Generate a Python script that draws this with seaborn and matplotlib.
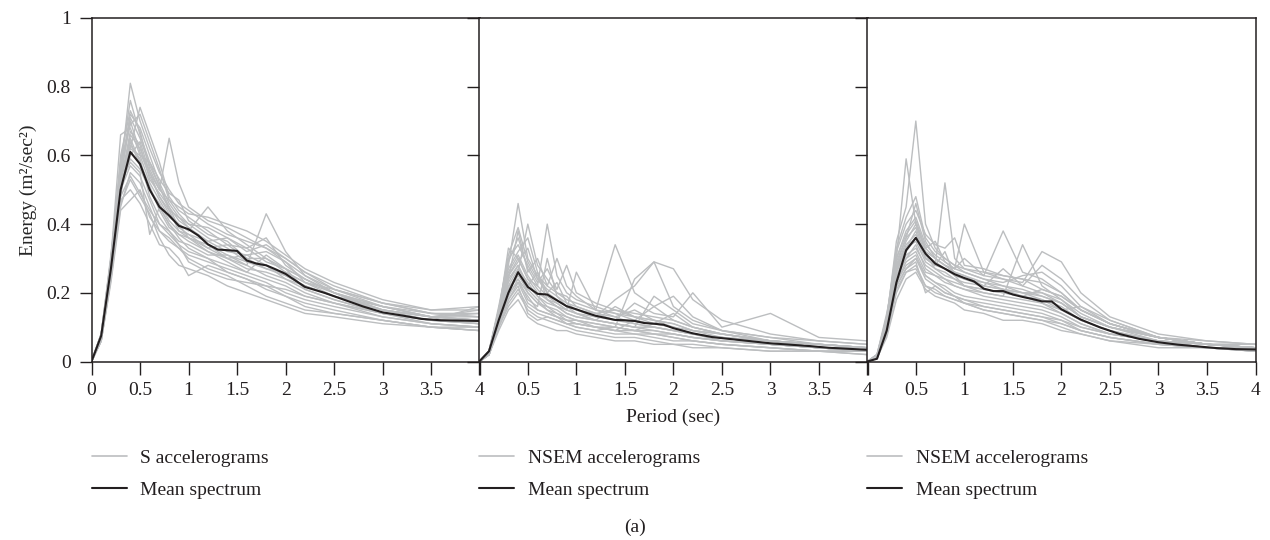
import numpy as np
import pandas as pd
import matplotlib
matplotlib.use('Agg')
import matplotlib.pyplot as plt
import seaborn as sns
from matplotlib.lines import Line2D

# periods (sec) at which the individual records were read
period_rec = [0, 0.1, 0.2, 0.3, 0.4, 0.5, 0.6, 0.7, 0.8, 0.9, 1.0,
              1.2, 1.4, 1.6, 1.8, 2.0, 2.2, 2.5, 3.0, 3.5, 4.0]
# periods for the mean spectra
period_mean = [0, 0.1, 0.2, 0.3, 0.4, 0.5, 0.6, 0.7, 0.8, 0.9, 1.0,
               1.1, 1.2, 1.3, 1.4, 1.5, 1.6, 1.7, 1.8, 1.9, 2.0,
               2.2, 2.4, 2.6, 2.8, 3.0, 3.2, 3.4, 3.6, 3.8, 4.0]

s_records = [
    [0, .07, .27, .55, .81, .70, .62, .55, .50, .46, .44, .40, .37, .35, .33, .29, .25, .21, .17, .14, .13],
    [0, .08, .30, .66, .68, .60, .52, .47, .42, .40, .36, .34, .30, .31, .28, .24, .22, .19, .15, .13, .12],
    [0, .06, .24, .45, .55, .52, .45, .38, .35, .33, .30, .27, .25, .22, .19, .17, .15, .14, .12, .10, .10],
    [0, .07, .28, .50, .62, .74, .66, .58, .48, .44, .42, .38, .34, .33, .36, .28, .24, .20, .15, .13, .12],
    [0, .08, .29, .52, .58, .55, .37, .45, .40, .36, .33, .30, .28, .26, .24, .22, .19, .17, .13, .11, .10],
    [0, .07, .26, .48, .66, .62, .55, .50, .65, .52, .45, .41, .39, .36, .33, .30, .26, .22, .17, .15, .16],
    [0, .06, .25, .47, .50, .46, .40, .34, .33, .30, .25, .28, .26, .24, .21, .19, .16, .14, .12, .10, .09],
    [0, .08, .31, .56, .72, .68, .60, .52, .46, .42, .40, .36, .33, .29, .28, .25, .22, .19, .15, .12, .11],
    [0, .07, .28, .53, .64, .57, .50, .46, .41, .38, .37, .33, .34, .30, .27, .26, .23, .20, .14, .12, .12],
    [0, .07, .27, .50, .60, .64, .55, .48, .44, .38, .36, .32, .30, .28, .43, .32, .25, .20, .16, .13, .14],
    [0, .08, .29, .58, .76, .66, .58, .53, .49, .47, .41, .37, .35, .30, .30, .26, .23, .21, .17, .14, .13],
    [0, .06, .23, .44, .47, .50, .42, .38, .36, .33, .31, .29, .27, .25, .23, .20, .18, .16, .13, .11, .10],
    [0, .07, .28, .51, .59, .56, .50, .45, .40, .37, .35, .32, .29, .26, .31, .27, .21, .18, .14, .12, .11],
    [0, .08, .30, .54, .70, .61, .54, .48, .43, .40, .38, .45, .38, .34, .30, .27, .24, .20, .15, .13, .12],
    [0, .07, .26, .49, .63, .59, .48, .42, .38, .35, .34, .31, .31, .28, .25, .23, .20, .17, .14, .12, .11],
    [0, .07, .27, .52, .65, .58, .51, .44, .39, .37, .36, .33, .30, .27, .26, .24, .21, .18, .14, .12, .16],
    [0, .07, .29, .60, .73, .67, .56, .50, .47, .43, .40, .39, .36, .32, .34, .30, .26, .21, .16, .13, .13],
    [0, .06, .25, .46, .53, .48, .43, .36, .31, .28, .27, .25, .22, .20, .18, .16, .14, .13, .11, .10, .09],
    [0, .08, .30, .57, .69, .72, .64, .56, .47, .45, .43, .42, .40, .38, .35, .31, .27, .23, .18, .15, .15],
    [0, .07, .27, .50, .57, .54, .47, .40, .37, .34, .32, .30, .26, .24, .22, .21, .19, .17, .14, .11, .10],
    [0, .07, .28, .52, .67, .63, .53, .49, .45, .41, .39, .35, .36, .33, .29, .27, .24, .20, .16, .14, .14],
    [0, .06, .24, .48, .54, .49, .44, .40, .38, .34, .29, .26, .24, .23, .22, .19, .17, .15, .12, .10, .09],
    [0, .08, .29, .55, .62, .60, .58, .51, .45, .39, .37, .35, .32, .31, .32, .29, .23, .19, .15, .13, .12],
    [0, .07, .26, .53, .71, .65, .57, .51, .44, .42, .39, .34, .31, .29, .27, .25, .22, .19, .16, .13, .15],
]
s_mean = [0, .075, .27, .50, .61, .575, .50, .45, .425, .395, .385,
          .367, .341, .326, .324, .322, .294, .285, .280, .268, .255,
          .217, .200, .180, .160, .143, .134, .124, .120, .119, .118]

nsem1_records = [
    [0, .03, .15, .28, .46, .30, .25, .22, .20, .18, .17, .15, .14, .13, .12, .10, .08, .07, .05, .04, .03],
    [0, .02, .12, .20, .26, .40, .28, .24, .20, .19, .16, .14, .12, .11, .10, .09, .08, .06, .05, .04, .03],
    [0, .03, .14, .33, .30, .24, .22, .40, .25, .20, .18, .16, .14, .12, .11, .10, .08, .07, .06, .04, .03],
    [0, .02, .10, .16, .20, .15, .13, .12, .11, .10, .09, .08, .07, .07, .06, .05, .05, .04, .03, .03, .02],
    [0, .03, .13, .24, .38, .26, .30, .22, .30, .22, .19, .15, .34, .20, .16, .12, .10, .08, .06, .05, .04],
    [0, .02, .11, .18, .22, .14, .12, .13, .12, .11, .10, .09, .10, .24, .29, .27, .18, .12, .08, .06, .05],
    [0, .03, .16, .30, .34, .28, .23, .27, .21, .28, .20, .17, .15, .14, .13, .12, .10, .08, .06, .05, .04],
    [0, .02, .12, .22, .24, .20, .17, .16, .14, .13, .12, .11, .10, .09, .08, .08, .07, .06, .05, .04, .03],
    [0, .03, .14, .25, .30, .24, .20, .18, .17, .15, .14, .12, .11, .10, .19, .15, .11, .09, .06, .05, .04],
    [0, .02, .09, .15, .18, .13, .11, .10, .09, .09, .08, .07, .06, .06, .05, .05, .04, .04, .03, .03, .02],
    [0, .03, .15, .27, .32, .36, .26, .20, .18, .16, .15, .13, .12, .17, .14, .13, .20, .10, .14, .07, .06],
    [0, .02, .13, .23, .28, .22, .19, .17, .16, .15, .26, .15, .13, .11, .10, .09, .08, .07, .05, .04, .03],
    [0, .03, .12, .21, .25, .21, .18, .15, .14, .12, .11, .10, .09, .12, .16, .19, .13, .09, .07, .05, .04],
    [0, .02, .11, .19, .24, .18, .16, .30, .19, .16, .14, .12, .11, .10, .09, .08, .07, .06, .05, .04, .03],
    [0, .03, .15, .29, .36, .27, .22, .19, .17, .15, .14, .13, .18, .22, .29, .16, .12, .09, .07, .06, .05],
    [0, .02, .13, .22, .27, .23, .19, .16, .15, .13, .12, .11, .10, .09, .09, .08, .07, .06, .05, .04, .03],
    [0, .03, .14, .26, .31, .25, .21, .18, .16, .14, .13, .12, .11, .10, .10, .09, .08, .07, .05, .04, .04],
    [0, .02, .10, .17, .21, .16, .14, .13, .12, .11, .10, .09, .08, .08, .07, .06, .06, .05, .04, .03, .03],
    [0, .03, .13, .25, .29, .33, .24, .20, .23, .17, .15, .14, .13, .15, .12, .11, .09, .08, .06, .05, .04],
    [0, .02, .11, .20, .23, .19, .15, .14, .13, .12, .11, .10, .09, .08, .08, .07, .06, .05, .04, .03, .03],
    [0, .03, .15, .31, .39, .29, .24, .21, .19, .17, .16, .14, .15, .13, .12, .11, .09, .08, .06, .05, .04],
    [0, .02, .12, .21, .26, .20, .17, .15, .13, .12, .12, .10, .10, .09, .11, .14, .10, .08, .06, .05, .04],
    [0, .03, .13, .24, .28, .22, .26, .18, .16, .14, .13, .12, .16, .13, .11, .10, .09, .07, .06, .04, .03],
    [0, .02, .11, .18, .23, .17, .15, .14, .13, .11, .11, .10, .09, .09, .08, .07, .06, .05, .04, .03, .03],
]
nsem1_mean = [0, .03, .12, .20, .26, .217, .197, .195, .178, .161, .152,
              .142, .133, .127, .121, .120, .118, .112, .110, .107, .097,
              .082, .071, .065, .059, .053, .049, .045, .040, .037, .034]

nsem2_records = [
    [0, .01, .12, .35, .45, .70, .40, .33, .30, .28, .26, .24, .22, .20, .18, .15, .12, .09, .06, .05, .04],
    [0, .01, .10, .30, .59, .40, .33, .30, .28, .26, .25, .22, .21, .19, .17, .14, .11, .08, .06, .04, .04],
    [0, .02, .14, .28, .33, .38, .30, .28, .52, .30, .27, .25, .24, .22, .20, .17, .13, .10, .07, .05, .04],
    [0, .01, .08, .20, .26, .28, .22, .20, .19, .18, .17, .15, .14, .13, .12, .10, .08, .06, .05, .04, .03],
    [0, .01, .11, .28, .36, .46, .35, .30, .28, .27, .30, .25, .38, .26, .24, .20, .15, .11, .07, .05, .04],
    [0, .01, .09, .24, .30, .32, .26, .25, .23, .22, .21, .20, .19, .34, .22, .18, .13, .10, .06, .05, .04],
    [0, .01, .12, .30, .38, .42, .34, .31, .29, .27, .40, .26, .24, .23, .32, .29, .20, .13, .08, .06, .05],
    [0, .01, .10, .25, .31, .33, .28, .26, .24, .23, .22, .21, .20, .19, .18, .16, .12, .09, .06, .05, .04],
    [0, .01, .08, .22, .27, .29, .20, .22, .20, .19, .17, .16, .15, .14, .13, .11, .09, .07, .05, .04, .03],
    [0, .02, .13, .32, .40, .44, .37, .34, .33, .36, .28, .27, .25, .24, .21, .19, .15, .11, .07, .05, .04],
    [0, .01, .09, .23, .28, .30, .25, .23, .21, .19, .18, .17, .16, .15, .14, .12, .10, .08, .06, .04, .04],
    [0, .01, .11, .27, .33, .35, .29, .27, .26, .24, .23, .22, .21, .20, .20, .18, .14, .10, .07, .05, .04],
    [0, .01, .07, .18, .24, .26, .21, .19, .18, .17, .15, .14, .12, .12, .11, .09, .08, .06, .04, .04, .03],
    [0, .01, .10, .26, .34, .37, .30, .28, .27, .25, .24, .22, .27, .22, .28, .24, .18, .12, .07, .05, .04],
    [0, .01, .12, .29, .36, .39, .31, .29, .27, .26, .25, .23, .21, .20, .19, .17, .13, .10, .07, .05, .05],
    [0, .02, .11, .26, .32, .36, .30, .28, .32, .25, .22, .20, .19, .18, .17, .15, .16, .11, .07, .06, .05],
    [0, .01, .10, .27, .35, .40, .32, .30, .28, .26, .24, .23, .22, .21, .19, .17, .13, .10, .07, .05, .04],
    [0, .01, .09, .22, .27, .30, .24, .22, .20, .19, .18, .16, .15, .14, .13, .12, .09, .07, .05, .04, .03],
    [0, .02, .12, .30, .37, .41, .33, .35, .29, .27, .26, .24, .23, .25, .26, .22, .16, .12, .07, .05, .04],
    [0, .01, .08, .21, .26, .27, .22, .21, .19, .18, .17, .15, .14, .13, .12, .11, .09, .07, .05, .04, .03],
    [0, .01, .11, .27, .33, .36, .31, .27, .25, .24, .22, .21, .20, .19, .21, .19, .15, .11, .07, .05, .04],
    [0, .01, .10, .25, .30, .34, .27, .25, .24, .22, .21, .19, .18, .17, .16, .14, .11, .08, .06, .05, .04],
    [0, .02, .13, .33, .42, .48, .36, .32, .30, .28, .27, .26, .25, .24, .23, .20, .15, .11, .07, .05, .05],
    [0, .01, .09, .23, .29, .31, .25, .23, .22, .20, .19, .18, .17, .16, .15, .13, .10, .08, .06, .04, .04],
]
nsem2_mean = [0, .008, .09, .23, .324, .36, .314, .285, .27, .254, .243,
              .233, .212, .205, .205, .195, .188, .182, .175, .175, .152,
              .122, .099, .080, .066, .056, .049, .044, .039, .036, .035]

rec_labels = ['S accelerograms', 'NSEM accelerograms', 'NSEM accelerograms']
x_ticks = [0, 0.5, 1, 1.5, 2, 2.5, 3, 3.5, 4]
y_ticks = [0, 0.2, 0.4, 0.6, 0.8, 1]

GRAY = '#bcbec0'
BLACK = '#231f20'
FS = 14

sns.set_theme(style='ticks')
plt.rcParams['font.family'] = ['Liberation Serif', 'DejaVu Serif']
plt.rcParams['axes.edgecolor'] = BLACK
plt.rcParams['xtick.color'] = BLACK
plt.rcParams['ytick.color'] = BLACK
plt.rcParams['text.color'] = BLACK

W, H = 1270, 540
fig = plt.figure(figsize=(W / 100, H / 100), dpi=100)

lefts = [91.5, 479.3, 867.3]
pw = 388.2
y_bot, y_top = 361.5, 18.0

panels = [(s_records, s_mean), (nsem1_records, nsem1_mean), (nsem2_records, nsem2_mean)]

for i, (records, mean) in enumerate(panels):
    ax = fig.add_axes([lefts[i] / W, (H - y_bot) / H, pw / W, (y_bot - y_top) / H])

    rows = [(t, v, k) for k, rec in enumerate(records) for t, v in zip(period_rec, rec)]
    df = pd.DataFrame(rows, columns=['period', 'energy', 'record'])
    sns.lineplot(data=df, x='period', y='energy', units='record', estimator=None,
                 color=GRAY, lw=1.0, ax=ax, legend=False)
    sns.lineplot(x=period_mean, y=mean, color=BLACK, lw=1.5, ax=ax, legend=False)

    ax.set_xlim(0, 4)
    ax.set_ylim(0, 1)
    ax.set_xticks(x_ticks)
    ax.set_yticks(y_ticks)
    if i == 0:
        ax.set_xticklabels(['0', '0.5', '1', '1.5', '2', '2.5', '3', '3.5', '4'])
        ax.set_yticklabels(['0', '0.2', '0.4', '0.6', '0.8', '1'])
        ax.set_ylabel('Energy (m²/sec²)', fontsize=FS, labelpad=7)
    else:
        ax.set_xticklabels(['', '0.5', '1', '1.5', '2', '2.5', '3', '3.5', '4'])
        ax.set_yticklabels([])
        ax.set_ylabel('')
    ax.set_xlabel('')
    ax.tick_params(direction='out', length=9, width=1.0, pad=6, labelsize=FS)
    for sp in ax.spines.values():
        sp.set_linewidth(1.1)

    handles = [Line2D([], [], color=GRAY, lw=1.2), Line2D([], [], color=BLACK, lw=1.5)]
    ax.legend(handles, [rec_labels[i], 'Mean spectrum'], loc='center left',
              bbox_to_anchor=(0, -(474 - y_bot) / (y_bot - y_top)), frameon=False,
              borderpad=0, borderaxespad=0, handlelength=1.8, handletextpad=0.7,
              labelspacing=0.76, fontsize=FS)

fig.text(673 / W, 1 - 417 / H, 'Period (sec)', ha='center', va='center', fontsize=FS)
fig.text(635 / W, 1 - 527 / H, '(a)', ha='center', va='center', fontsize=FS)

fig.savefig('out.png', dpi=100)
